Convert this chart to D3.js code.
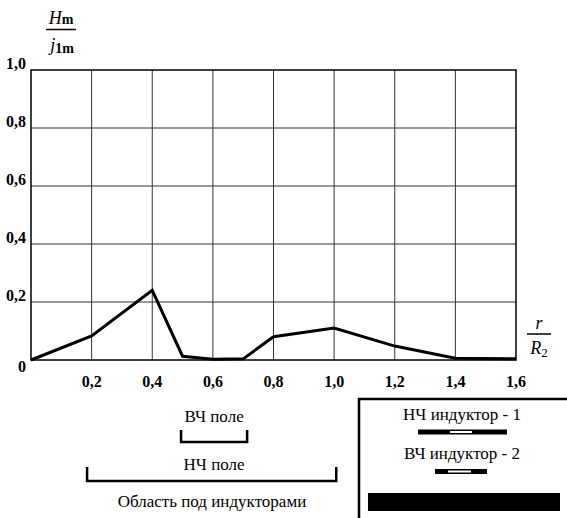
<!DOCTYPE html>
<html><head><meta charset="utf-8">
<script src="https://cdn.jsdelivr.net/npm/d3@7"></script>
<style>svg text, svg tspan{font-family:'Liberation Serif', serif !important}</style>
</head><body style="margin:0">
<svg id="c" width="567" height="518"></svg>
<script>
const rValues = [0, 0.2, 0.4, 0.5, 0.6, 0.7, 0.8, 1.0, 1.2, 1.4, 1.6];
const hValues = [0, 0.083, 0.24, 0.013, 0.003, 0.004, 0.08, 0.11, 0.048, 0.006, 0.004];
const xTicks = [0.2, 0.4, 0.6, 0.8, 1.0, 1.2, 1.4, 1.6];
const yTicks = [0, 0.2, 0.4, 0.6, 0.8, 1.0];
const fmt = v => v === 0 ? "0" : d3.format(".1f")(v).replace(".", ",");
const hfRange = [0.495, 0.713];
const lfRange = [0.185, 1.007];
const legendLabels = ["НЧ индуктор - 1", "ВЧ индуктор - 2"];
const FF = "'Liberation Serif', serif";

const svg = d3.select("#c");
const x = d3.scaleLinear().domain([0, 1.6]).range([31, 516]);
const y = d3.scaleLinear().domain([0, 1]).range([360, 70]);

function txt(px, py, size, s) {
  return svg.append("text").attr("x", px).attr("y", py).attr("font-size", size)
    .style("font-family", FF).attr("text-anchor", "middle").text(s);
}

// grid
svg.append("g").selectAll("line").data(xTicks.slice(0, -1)).join("line")
  .attr("x1", d => x(d)).attr("x2", d => x(d)).attr("y1", y(0)).attr("y2", y(1))
  .attr("stroke", "#333").attr("stroke-width", 1);
svg.append("g").selectAll("line").data(yTicks.slice(1, -1)).join("line")
  .attr("x1", x(0)).attr("x2", x(1.6)).attr("y1", d => y(d)).attr("y2", d => y(d))
  .attr("stroke", "#333").attr("stroke-width", 1);
svg.append("rect").attr("x", x(0)).attr("y", y(1)).attr("width", x(1.6) - x(0)).attr("height", y(0) - y(1))
  .attr("fill", "none").attr("stroke", "#000").attr("stroke-width", 1.5);

// tick labels
svg.append("g").selectAll("text").data(xTicks).join("text")
  .attr("x", d => x(d)).attr("y", y(0) + 27).attr("text-anchor", "middle").style("font-family", FF)
  .attr("font-size", 16).attr("font-weight", "bold").text(fmt);
svg.append("g").selectAll("text").data(yTicks).join("text")
  .attr("x", 26).attr("y", d => d === 0 ? y(d) + 12 : y(d) - 1).attr("text-anchor", "end").style("font-family", FF)
  .attr("font-size", 16).attr("font-weight", "bold").text(fmt);

// line
const pts = rValues.map((r, i) => [r, hValues[i]]);
svg.append("path").datum(pts)
  .attr("d", d3.line().x(d => x(d[0])).y(d => y(d[1])))
  .attr("fill", "none").attr("stroke", "#000").attr("stroke-width", 3).attr("stroke-linejoin", "miter");

// y title
const yt = txt(61, 24, 18, null);
yt.append("tspan").attr("font-style", "italic").text("H");
yt.append("tspan").attr("font-size", 14).attr("font-weight", "bold").text("m");
svg.append("line").attr("x1", 46).attr("x2", 76).attr("y1", 29.5).attr("y2", 29.5).attr("stroke", "#000").attr("stroke-width", 1.5);
const yt2 = txt(62, 51, 18, null);
yt2.append("tspan").attr("font-style", "italic").text("j");
yt2.append("tspan").attr("font-size", 14).attr("font-weight", "bold").attr("dy", 2).text("1m");

// x title
txt(539, 329, 18, "r").attr("font-style", "italic");
svg.append("line").attr("x1", 527).attr("x2", 551).attr("y1", 334).attr("y2", 334).attr("stroke", "#000").attr("stroke-width", 1.5);
const xt = txt(539, 354, 18, null);
xt.append("tspan").attr("font-style", "italic").text("R");
xt.append("tspan").attr("font-size", 13).attr("dy", 3).text("2");

// brackets
function bracket(r, top, bot) {
  svg.append("path")
    .attr("d", `M${x(r[0])},${top}V${bot}H${x(r[1])}V${top}`)
    .attr("fill", "none").attr("stroke", "#000").attr("stroke-width", 2.5);
}
txt(d3.mean(hfRange.map(x)), 422, 17, "ВЧ поле");
bracket(hfRange, 430, 442);
txt(d3.mean(hfRange.map(x)), 470, 17, "НЧ поле");
bracket(lfRange, 467, 481);
txt(212, 507, 17, "Область под индукторами");

// legend box
svg.append("path").attr("d", "M359,518V399H567").attr("fill", "none").attr("stroke", "#000").attr("stroke-width", 2.5);
txt(462, 420, 17, legendLabels[0]);
svg.append("rect").attr("x", 418).attr("y", 429.5).attr("width", 89).attr("height", 5).attr("fill", "#000");
svg.append("rect").attr("x", 450).attr("y", 431).attr("width", 22).attr("height", 2).attr("fill", "#fff");
txt(462, 459, 17, legendLabels[1]);
svg.append("rect").attr("x", 435).attr("y", 469).attr("width", 52).attr("height", 5).attr("fill", "#000");
svg.append("rect").attr("x", 448).attr("y", 470.5).attr("width", 23).attr("height", 2).attr("fill", "#fff");
svg.append("rect").attr("x", 368).attr("y", 493).attr("width", 192).attr("height", 18).attr("fill", "#000");
</script></body></html>
